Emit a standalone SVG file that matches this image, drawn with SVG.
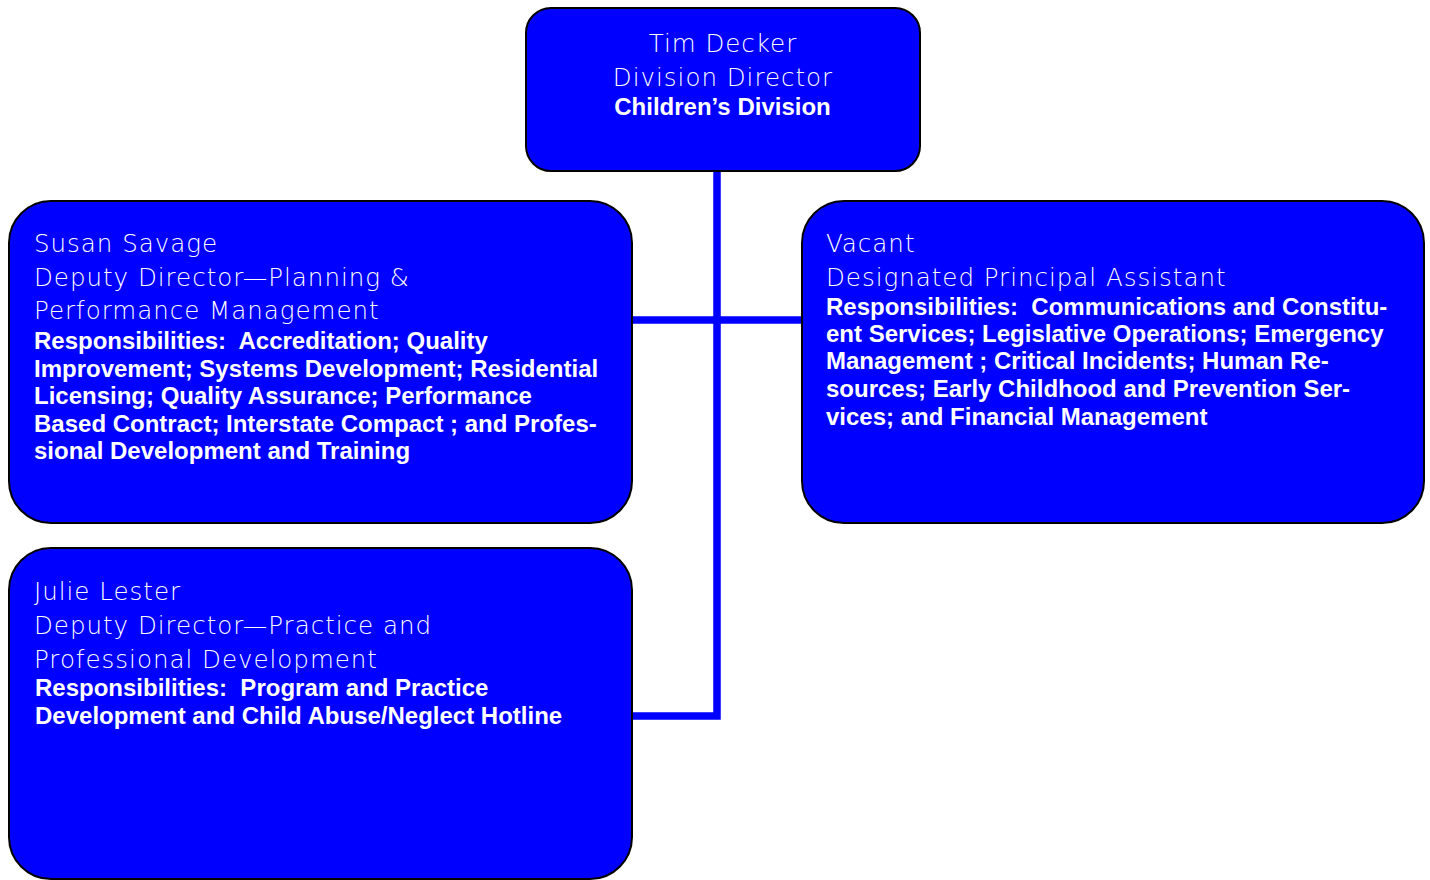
<svg xmlns="http://www.w3.org/2000/svg" width="1430" height="880" viewBox="0 0 1430 880">
<style>
.box{fill:#0000FF;stroke:#000;stroke-width:2}
.conn{fill:none;stroke:#0000FF;stroke-width:7.5}
.reg{font-family:"DejaVu Sans","Liberation Sans",sans-serif;font-weight:200;font-size:24.5px;letter-spacing:1px;fill:#fff}
.bold{font-family:"Liberation Sans",Arial,sans-serif;font-weight:bold;font-size:24px;fill:#fff}
.c{text-anchor:middle}
</style>
<rect width="1430" height="880" fill="#fff"/>
<g id="connectors">
<path class="conn" d="M717,171 V716 H632"/>
<path class="conn" d="M632,320 H802"/>
</g>
<g id="director">
<rect class="box" x="526" y="8" width="394" height="163" rx="25"/>
<text class="reg c" x="723" y="52">Tim Decker</text>
<text class="reg c" x="723" y="85.5">Division Director</text>
<text class="bold c" x="722.5" y="115">Children’s Division</text>
</g>
<g id="savage">
<rect class="box" x="9" y="201" width="623" height="322" rx="42"/>
<text class="reg" x="34" y="252">Susan Savage</text>
<text class="reg" x="34" y="286">Deputy Director—Planning &amp;</text>
<text class="reg" x="34" y="319">Performance Management</text>
<text class="bold" x="34" y="348.5" xml:space="preserve">Responsibilities:  Accreditation; Quality</text>
<text class="bold" x="34" y="376.5">Improvement; Systems Development; Residential</text>
<text class="bold" x="34" y="403.5">Licensing; Quality Assurance; Performance</text>
<text class="bold" x="34" y="431.5">Based Contract; Interstate Compact ; and Profes-</text>
<text class="bold" x="34" y="458.5">sional Development and Training</text>
</g>
<g id="vacant">
<rect class="box" x="802" y="201" width="622" height="322" rx="42"/>
<text class="reg" x="826" y="252">Vacant</text>
<text class="reg" x="826" y="286">Designated Principal Assistant</text>
<text class="bold" x="826" y="314.5" xml:space="preserve">Responsibilities:  Communications and Constitu-</text>
<text class="bold" x="826" y="342">ent Services; Legislative Operations; Emergency</text>
<text class="bold" x="826" y="369">Management ; Critical Incidents; Human Re-</text>
<text class="bold" x="826" y="397">sources; Early Childhood and Prevention Ser-</text>
<text class="bold" x="826" y="424.5">vices; and Financial Management</text>
</g>
<g id="lester">
<rect class="box" x="9" y="548" width="623" height="331" rx="42"/>
<text class="reg" x="34" y="600">Julie Lester</text>
<text class="reg" x="34" y="634">Deputy Director—Practice and</text>
<text class="reg" x="34" y="667.5">Professional Development</text>
<text class="bold" x="35" y="696" xml:space="preserve">Responsibilities:  Program and Practice</text>
<text class="bold" x="35" y="723.5">Development and Child Abuse/Neglect Hotline</text>
</g>
</svg>
